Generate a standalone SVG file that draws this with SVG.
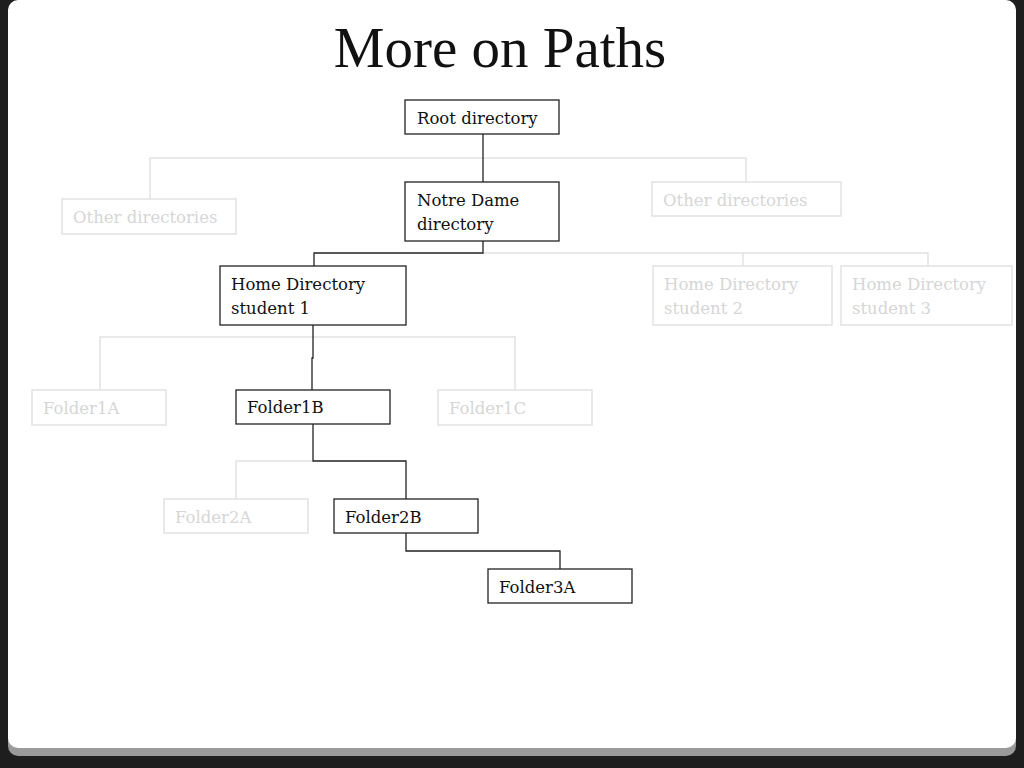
<svg xmlns="http://www.w3.org/2000/svg" width="1024" height="768" viewBox="0 0 1024 768">
<style>
.n{fill:#fff;stroke:#222;stroke-width:1.3}
.f{fill:#fff;stroke:#e2e2e2;stroke-width:1.5}
text{font-family:"DejaVu Serif","Liberation Serif",serif;font-size:16.5px}
.t{fill:#111}
.ft{fill:#d6d6d6}
.dk{fill:none;stroke:#222;stroke-width:1.3}
.lt{fill:none;stroke:#e2e2e2;stroke-width:1.5}
</style>
<rect width="1024" height="768" fill="#1e1e1e"/>
<rect x="8" y="2" width="1008" height="754" rx="10" fill="#9a9a9a"/>
<rect x="8" y="0" width="1008" height="748" rx="10" fill="#fff"/>
<text x="500" y="67" text-anchor="middle" style="font-family:'Liberation Serif',serif;font-size:57px" fill="#111">More on Paths</text>
<g id="connectors">
<path class="lt" d="M150 199V158H746V182"/>
<path class="lt" d="M483 253H928V266M743 253V266"/>
<path class="lt" d="M100 390V337H515V390"/>
<path class="lt" d="M313 461H236V499"/>
<path class="dk" d="M483 134V182"/>
<path class="dk" d="M483 241V253H314V266"/>
<path class="dk" d="M313 325V358H312V390"/>
<path class="dk" d="M313 424V461H406V499"/>
<path class="dk" d="M406 533V551H560V569"/>
</g>
<g id="root"><rect class="n" x="405" y="100" width="154" height="34"/><text class="t" x="417" y="124">Root directory</text></g>
<g id="notredame"><rect class="n" x="405" y="182" width="154" height="59"/><text class="t" x="417" y="206">Notre Dame</text><text class="t" x="417" y="230">directory</text></g>
<g id="otherL"><rect class="f" x="62" y="199" width="174" height="35"/><text class="ft" x="73" y="223">Other directories</text></g>
<g id="otherR"><rect class="f" x="652" y="182" width="189" height="34"/><text class="ft" x="663" y="206">Other directories</text></g>
<g id="home1"><rect class="n" x="220" y="266" width="186" height="59"/><text class="t" x="231" y="290">Home Directory</text><text class="t" x="231" y="314">student 1</text></g>
<g id="home2"><rect class="f" x="653" y="266" width="179" height="59"/><text class="ft" x="664" y="290">Home Directory</text><text class="ft" x="664" y="314">student 2</text></g>
<g id="home3"><rect class="f" x="841" y="266" width="171" height="59"/><text class="ft" x="852" y="290">Home Directory</text><text class="ft" x="852" y="314">student 3</text></g>
<g id="f1a"><rect class="f" x="32" y="390" width="134" height="35"/><text class="ft" x="43" y="414">Folder1A</text></g>
<g id="f1b"><rect class="n" x="236" y="390" width="154" height="34"/><text class="t" x="247" y="413">Folder1B</text></g>
<g id="f1c"><rect class="f" x="438" y="390" width="154" height="35"/><text class="ft" x="449" y="414">Folder1C</text></g>
<g id="f2a"><rect class="f" x="164" y="499" width="144" height="34"/><text class="ft" x="175" y="523">Folder2A</text></g>
<g id="f2b"><rect class="n" x="334" y="499" width="144" height="34"/><text class="t" x="345" y="523">Folder2B</text></g>
<g id="f3a"><rect class="n" x="488" y="569" width="144" height="34"/><text class="t" x="499" y="593">Folder3A</text></g>
</svg>
